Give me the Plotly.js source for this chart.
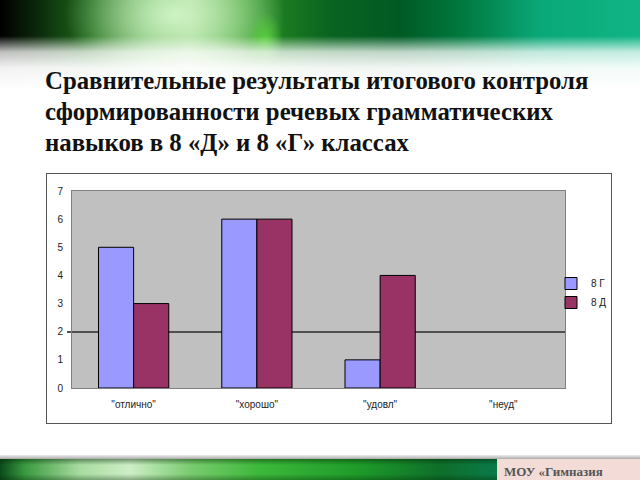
<!DOCTYPE html>
<html>
<head>
<meta charset="utf-8">
<script src="https://cdn.plot.ly/plotly-3.0.1.min.js"></script>
<style>
  html, body { margin:0; padding:0; width:640px; height:480px; overflow:hidden; background:#fff; }
  #header { position:absolute; left:0; top:0; width:640px; height:90px;
    background:
      linear-gradient(to bottom, rgba(255,255,255,0) 0px, rgba(255,255,255,0) 36px, rgba(255,255,255,0.75) 52px, rgba(255,255,255,0.95) 68px, #fff 90px),
      radial-gradient(ellipse 18px 28px at 265px 40px, rgba(90,210,60,0.95), rgba(90,210,60,0)),
      radial-gradient(ellipse 110px 70px at 175px 15px, rgba(210,245,200,0.95), rgba(210,245,200,0)),
      linear-gradient(to right, #000 0px, #0a250a 35px, #1f6a1a 90px, #6ab45e 150px, #98d088 190px, #4aa83e 245px, #1a7a20 285px, #0a6420 330px, #005a24 400px, #00783e 460px, #0aa878 540px, #10b585 640px);
  }
  #title { position:absolute; left:45px; top:65px; width:590px; font-family:"Liberation Serif", "Times New Roman", serif; font-weight:bold; font-size:24.8px; line-height:31px; color:#111; white-space:nowrap; }
  #box { position:absolute; left:46px; top:173px; width:566px; height:251px; background:#fff; border:1.5px solid #555; box-sizing:border-box; }
  #fline { position:absolute; left:0; top:455px; width:640px; height:4px; background:linear-gradient(to bottom,#eee,#aaa); }
  #fbar { position:absolute; left:0; top:459px; width:497px; height:21px;
    background:
      linear-gradient(to bottom, rgba(0,40,0,0.45) 0px, rgba(0,0,0,0) 6px, rgba(0,0,0,0) 15px, rgba(0,40,0,0.35) 21px),
      linear-gradient(to right, #0a4a1a 0px, #3a9a40 25px, #a8dca0 80px, #cdeec6 130px, #7acc70 190px, #3cb83a 260px, #1e9a2a 360px, #0e6e2a 440px, #0a7a4a 497px);
  }
  #fbox { position:absolute; left:497px; top:459px; width:143px; height:21px; background:#f3dcd8; overflow:hidden; }
  #fbox span { position:absolute; left:7px; top:5px; font-family:"Liberation Serif", serif; font-weight:bold; font-size:13px; color:#555; white-space:nowrap; }
  #chart { position:absolute; left:0; top:0; width:640px; height:480px; }
</style>
</head>
<body>
<div id="header"></div>
<div id="title">Сравнительные результаты итогового контроля<br>сформированности речевых грамматических<br>навыков в 8 «Д» и 8 «Г» классах</div>
<div id="box"></div>
<div id="fline"></div>
<div id="fbar"></div>
<div id="fbox"><span>МОУ «Гимназия</span></div>
<div id="chart"></div>
<script>
const categories = ['"отлично"', '"хорошо"', '"удовл"', '"неуд"'];
const series8G = [5, 6, 1, 0];
const series8D = [3, 6, 4, 0];
const seriesNames = ['8 Г', '8 Д'];
const yTicks = [0, 1, 2, 3, 4, 5, 6, 7];
const gridValues = [2];

const outlineWidths = vals => vals.map(v => v === 0 ? 0 : 1);

const traces = [
  { type:'bar', name:seriesNames[0], x:categories, y:series8G,
    marker:{ color:'#9999FF', line:{ color:'#000', width:outlineWidths(series8G) } }, hoverinfo:'none' },
  { type:'bar', name:seriesNames[1], x:categories, y:series8D,
    marker:{ color:'#993366', line:{ color:'#000', width:outlineWidths(series8D) } }, hoverinfo:'none' },
  { type:'scatter', mode:'none', x:[], y:[], yaxis:'y2', showlegend:false, hoverinfo:'none' }
];

const layout = {
  width:640, height:480,
  paper_bgcolor:'rgba(0,0,0,0)',
  plot_bgcolor:'#C0C0C0',
  margin:{ l:72, r:75, t:191, b:92, pad:0 },
  barmode:'group', bargap:0.43, bargroupgap:0,
  xaxis:{
    type:'category', showgrid:false, zeroline:false,
    showline:true, mirror:true, linecolor:'#808080', linewidth:1,
    ticks:'', ticklabelstandoff:7,
    tickfont:{ family:'Liberation Sans, Arial, sans-serif', size:10, color:'#222' }
  },
  yaxis:{
    range:[0,7], autorange:false, tickvals:yTicks, showgrid:false, zeroline:false,
    showline:true, mirror:true, linecolor:'#808080', linewidth:1,
    ticks:'', ticklabelstandoff:6,
    tickfont:{ family:'Liberation Sans, Arial, sans-serif', size:10, color:'#222' }
  },
  yaxis2:{
    overlaying:'y', side:'left', range:[0,7], autorange:false,
    tickvals:gridValues, showticklabels:false, ticks:'outside', ticklen:4, tickcolor:'#505050', tickwidth:1.8,
    showgrid:true, gridcolor:'#505050', gridwidth:1.8, zeroline:false, showline:false
  },
  legend:{
    x:(551-72)/493, xanchor:'left', y:(388-269)/197, yanchor:'top',
    bgcolor:'rgba(0,0,0,0)',
    font:{ family:'Liberation Sans, Arial, sans-serif', size:10, color:'#222' }
  },
  showlegend:true
};

Plotly.newPlot('chart', traces, layout, { staticPlot:true, displayModeBar:false });
</script>
</body>
</html>
